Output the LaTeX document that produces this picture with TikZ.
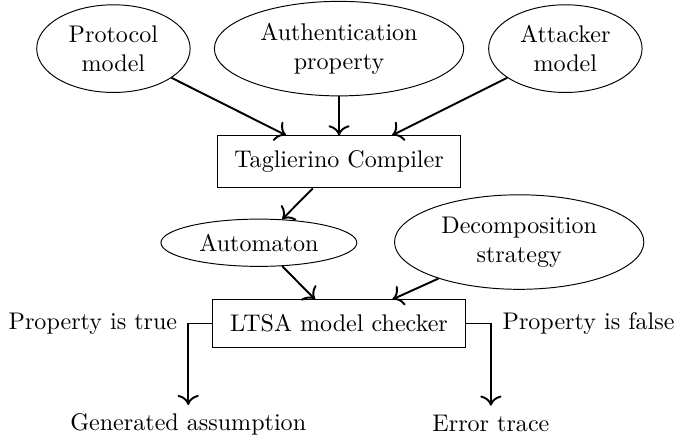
\documentclass[tikz,border=0pt]{standalone}
\usetikzlibrary{positioning,shapes.geometric,arrows.meta}

\begin{document}
\begin{tikzpicture}[node distance=0.3cm, auto, thick, >={To[scale=1.25]}]
    % Define styles
    \tikzstyle{ell_small} = [draw, thin, ellipse, inner sep=1pt, align=center, minimum width=2.24cm, minimum height=1.28cm]
    \tikzstyle{ell_big} = [draw, thin, ellipse, inner sep=1pt, align=center, minimum width=3.64cm, minimum height=1.38cm]
    \tikzstyle{ell_flat} = [draw, thin, ellipse, inner sep=1pt, minimum width=2.86cm, minimum height=0.69cm]
    \tikzstyle{rec_tool} = [draw, thin, rectangle, minimum height=0.69cm]
    \tikzstyle{flow} = [->, thick]

    \useasboundingbox (0,0) rectangle (9.855,6.424);

    % INPUTS
    \node (tag_compiler) [rec_tool, minimum width=3.56cm, minimum height=0.76cm] at (4.95,4.06) {Taglierino Compiler};
    \node (auth_prop) [ell_big, above=0.57cm of tag_compiler] {Authentication\\property};
    \node (proto_model) [ell_small, left=0.34cm of auth_prop] {Protocol\\model};
    \node (attacker_model) [ell_small, right=0.35cm of auth_prop] {Attacker\\model};

    % CHECKING
    \node (ltsa_checker) [rec_tool, minimum width=3.69cm, below=1.62cm of tag_compiler] {LTSA model checker};
    \node (automaton) [ell_flat] at (3.78,2.88) {Automaton};
    \node (decomp_strategy) [ell_big] at (7.58,2.89) {Decomposition\\strategy};

    % RESULTS
    \coordinate [left=0.35cm of ltsa_checker.west] (true_corner);
    \coordinate [right=0.365cm of ltsa_checker.east] (false_corner);
    \node (prop_true) [left=0.03cm of true_corner] {Property is true};
    \node (prop_false) [right=0.04cm of false_corner] {Property is false};
    \node (gen_assumption) [below=1.19cm of true_corner] {Generated assumption};
    \node (error_trace) [below=1.2cm of false_corner] {Error trace};

    % CONNECTIONS
    \draw[flow] (proto_model) -- (tag_compiler);
    \draw[flow] (auth_prop) -- (tag_compiler);
    \draw[flow] (attacker_model) -- (tag_compiler);
    \draw[flow] (tag_compiler) -- (automaton);
    \draw[flow] (automaton) -- (ltsa_checker);
    \draw[flow] (decomp_strategy) -- (ltsa_checker);

    % Outcomes
    \draw[flow] (ltsa_checker.west) -- (true_corner) -- (gen_assumption);
    \draw[flow] (ltsa_checker.east) -- (false_corner) -- (error_trace);

\end{tikzpicture}
\end{document}
